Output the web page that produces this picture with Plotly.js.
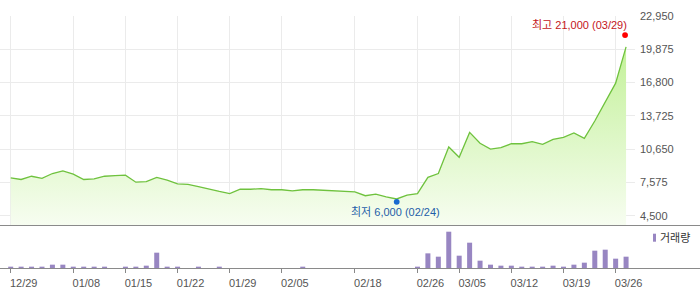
<!DOCTYPE html>
<html>
<head>
<meta charset="utf-8">
<script src="https://cdn.plot.ly/plotly-3.0.1.min.js"></script>
<style>
html,body{margin:0;padding:0;background:#fff;}
#chart{width:700px;height:289px;}
</style>
</head>
<body>
<div id="chart"></div>
<script>
// ---- data ----
const dates = ["12/29","12/30","01/04","01/05","01/06","01/07","01/08","01/11","01/12","01/13",
  "01/14","01/15","01/18","01/19","01/20","01/21","01/22","01/25","01/26","01/27",
  "01/28","01/29","02/01","02/02","02/03","02/04","02/05","02/08","02/09","02/10",
  "02/15","02/16","02/17","02/18","02/19","02/22","02/23","02/24","02/25","02/26",
  "03/02","03/03","03/04","03/05","03/08","03/09","03/10","03/11","03/12","03/15",
  "03/16","03/17","03/18","03/19","03/22","03/23","03/24","03/25","03/26","03/29"];
const prices = [8000,7850,8150,7950,8400,8650,8350,7850,7900,8150,
  8200,8250,7600,7650,8050,7800,7450,7400,7200,6950,
  6750,6550,6950,6950,7000,6900,6900,6800,6900,6900,
  6850,6800,6750,6700,6350,6500,6250,6050,6400,6550,
  8050,8400,10850,9900,12200,11200,10650,10800,11150,11150,
  11350,11100,11550,11750,12150,11650,13250,15000,16750,20100];
const volumes = [40,40,40,40,100,100,40,40,40,40,
  0,40,40,70,460,40,40,0,40,0,
  40,0,0,0,0,0,0,0,40,0,
  0,0,0,0,0,0,0,0,0,40,
  440,340,1090,370,760,220,100,70,70,40,
  40,40,70,40,100,160,520,550,280,340];
const tickDates = ["12/29","01/08","01/15","01/22","01/29","02/05","02/18","02/26","03/05","03/12","03/19","03/26"];
const priceTicks = [4500,7575,10650,13725,16800,19875,22950];
const highValue = 21000, highDate = "03/29";
const lowValue = 6000, lowDate = "02/24";
const volumeName = "거래량";

// ---- layout helpers (pixel geometry) ----
const W = 700, H = 289, mL = 0, mR = 65, mT = 16, mB = 21;
const plotW = W - mL - mR, plotH = H - mT - mB;
const pyToPaper = py => (H - mB - py) / plotH;
const pxToPaper = px => (px - mL) / plotW;
const xRange = [-1.026, 59.856];
const font = "Liberation Sans, Arial, Noto Sans CJK KR, sans-serif";
const fmt = v => v.toLocaleString('en-US');

const hi = dates.indexOf(highDate), lo = dates.indexOf(lowDate);

const traces = [
  {
    type: 'scatter', mode: 'lines', x: dates, y: prices, xaxis: 'x', yaxis: 'y',
    line: {color: '#6fc23e', width: 1.3},
    fill: 'tozeroy',
    fillgradient: {type: 'vertical', start: 3600, stop: 22950,
      colorscale: [[0, 'rgb(247,253,241)'], [1, 'rgb(186,239,138)']]},
    hoverinfo: 'skip'
  },
  {
    type: 'bar', x: dates, y: volumes, xaxis: 'x2', yaxis: 'y2',
    marker: {color: '#9886c2', line: {width: 0}}, width: 0.48, hoverinfo: 'skip'
  }
];

const layout = {
  width: W, height: H,
  margin: {l: mL, r: mR, t: mT, b: mB, pad: 0},
  paper_bgcolor: '#fff', plot_bgcolor: 'rgba(0,0,0,0)',
  showlegend: false,
  font: {family: font, size: 11, color: '#555'},
  xaxis: {
    type: 'category', range: xRange, domain: [0, 1], anchor: 'y',
    tickmode: 'array', tickvals: tickDates, showticklabels: false, ticks: '',
    showgrid: true, gridcolor: '#ebebeb', gridwidth: 1, zeroline: false, showline: false, fixedrange: true
  },
  yaxis: {
    domain: [pyToPaper(225.5), 1], anchor: 'x', side: 'right',
    range: [3600, 22951], tickmode: 'array', tickvals: priceTicks,
    ticktext: priceTicks.map(fmt), ticks: '', ticklabelstandoff: 4,
    showgrid: true, gridcolor: '#ebebeb', gridwidth: 1, zeroline: false, showline: false,
    tickfont: {family: font, size: 11, color: '#555'}, fixedrange: true
  },
  xaxis2: {
    type: 'category', range: xRange, domain: [0, 1], anchor: 'y2',
    tickmode: 'array', tickvals: tickDates, ticktext: tickDates,
    ticks: 'outside', ticklen: 4, tickcolor: '#888', tickwidth: 1,
    ticklabelshift: 13, ticklabelstandoff: 1,
    showgrid: false, zeroline: false, showline: false,
    tickfont: {family: font, size: 11, color: '#555'}, fixedrange: true
  },
  yaxis2: {
    domain: [0, pyToPaper(229)], anchor: 'x2', range: [0, 1171],
    showticklabels: false, showgrid: false, zeroline: false, ticks: '', fixedrange: true
  },
  shapes: [
    {type: 'line', xref: 'paper', yref: 'paper', x0: pxToPaper(0), x1: pxToPaper(700),
     y0: pyToPaper(225.5), y1: pyToPaper(225.5), line: {color: '#8a8a8a', width: 1}},
    {type: 'line', xref: 'paper', yref: 'paper', x0: pxToPaper(0), x1: pxToPaper(700),
     y0: pyToPaper(268.5), y1: pyToPaper(268.5), line: {color: '#8a8a8a', width: 1}},
    {type: 'circle', xref: 'x', yref: 'y', xsizemode: 'pixel', ysizemode: 'pixel',
     xanchor: hi, yanchor: highValue, x0: -3.9, x1: 1.9, y0: -0.9, y1: 4.9,
     fillcolor: '#ff0000', line: {width: 0}},
    {type: 'circle', xref: 'x', yref: 'y', xsizemode: 'pixel', ysizemode: 'pixel',
     xanchor: lo, yanchor: lowValue, x0: -2.8, x1: 3.0, y0: -5.2, y1: 0.6,
     fillcolor: '#1a6ad0', line: {width: 0}},
    {type: 'rect', xref: 'paper', yref: 'paper', x0: pxToPaper(653), x1: pxToPaper(656),
     y0: pyToPaper(241.7), y1: pyToPaper(233.7), fillcolor: '#9886c2', line: {width: 0}}
  ],
  annotations: [
    {xref: 'x', yref: 'y', x: hi, y: highValue, text: '최고 ' + fmt(highValue) + ' (' + highDate + ')',
     showarrow: false, xanchor: 'right', yanchor: 'middle', xshift: 2.5, yshift: 12,
     font: {family: font, size: 11, color: '#c4161c'}},
    {xref: 'x', yref: 'y', x: lo, y: lowValue, text: '최저 ' + fmt(lowValue) + ' (' + lowDate + ')',
     showarrow: false, xanchor: 'center', yanchor: 'middle', xshift: -1, yshift: -12.3,
     font: {family: font, size: 11, color: '#1f5fa8'}},
    {xref: 'paper', yref: 'paper', x: pxToPaper(658), y: pyToPaper(237.7), text: volumeName,
     showarrow: false, xanchor: 'left', yanchor: 'middle',
     font: {family: font, size: 11, color: '#333'}}
  ]
};

Plotly.newPlot('chart', traces, layout, {displayModeBar: false, staticPlot: true});
</script>
</body>
</html>
